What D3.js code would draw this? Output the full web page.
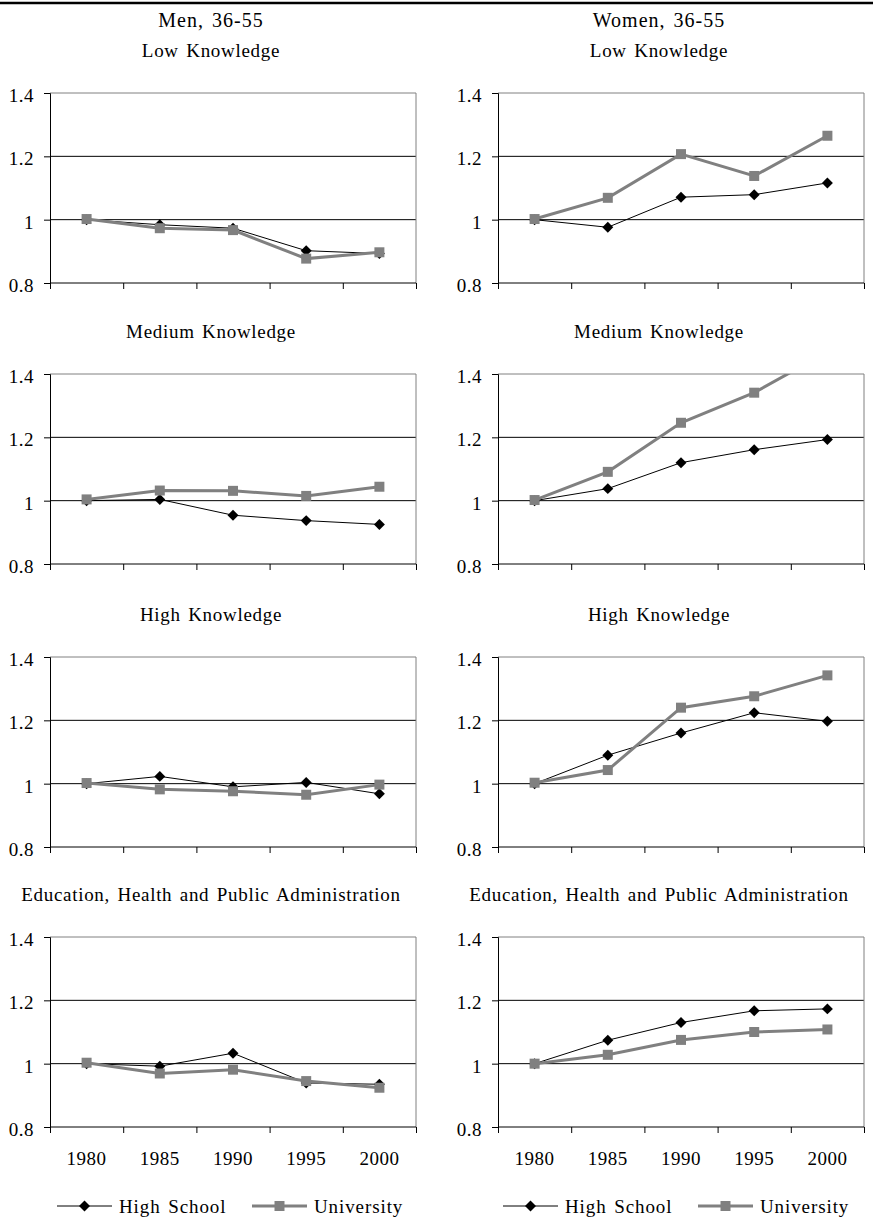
<!DOCTYPE html>
<html>
<head>
<meta charset="utf-8">
<script src="https://cdn.jsdelivr.net/npm/d3@7"></script>
<style>
  body { margin: 0; background: #fff; }
  svg { display: block; font-family: "Liberation Serif", "DejaVu Serif", serif; }
  text { font-family: "Liberation Serif", "DejaVu Serif", serif; fill: #000; }
  .tick text { font-size: 19px; letter-spacing: 0.5px; }
  .label { font-size: 19px; letter-spacing: 0.7px; word-spacing: 2px; }
</style>
</head>
<body>
<svg id="chart" width="873" height="1222"></svg>
<script>
// Data
var years = ['1980', '1985', '1990', '1995', '2000'];
var groups = ['Men, 36-55', 'Women, 36-55'];
var sectors = ['Low Knowledge', 'Medium Knowledge', 'High Knowledge',
               'Education, Health and Public Administration'];
var seriesNames = ['High School', 'University'];
var yTicks = [0.8, 1, 1.2, 1.4];

var menHighSchool = [
    [1.000, 0.984, 0.973, 0.902, 0.893],
    [1.000, 1.004, 0.954, 0.937, 0.925],
    [1.000, 1.023, 0.990, 1.004, 0.968],
    [1.000, 0.992, 1.033, 0.939, 0.935]
];
var menUniversity = [
    [1.002, 0.973, 0.967, 0.877, 0.897],
    [1.004, 1.032, 1.031, 1.015, 1.044],
    [1.002, 0.982, 0.976, 0.965, 0.997],
    [1.003, 0.969, 0.981, 0.945, 0.924]
];
var womenHighSchool = [
    [1.000, 0.976, 1.071, 1.079, 1.116],
    [1.000, 1.038, 1.120, 1.161, 1.193],
    [1.000, 1.090, 1.160, 1.224, 1.197],
    [1.000, 1.074, 1.130, 1.167, 1.173]
];
var womenUniversity = [
    [1.002, 1.069, 1.207, 1.138, 1.265],
    [1.002, 1.091, 1.246, 1.341, 1.470],
    [1.003, 1.043, 1.240, 1.276, 1.342],
    [1.000, 1.028, 1.075, 1.100, 1.108]
];

var seriesData = [[menHighSchool, menUniversity], [womenHighSchool, womenUniversity]];

var svg = d3.select('#chart');
var grey = '#808080';

// Layout
var colLeft = [50, 498];
var plotW = 366;
var plotH = 190;
var rowTop = [93, 374, 657, 937];
var colCenter = [211, 659];

// Top rule
svg.append('line')
   .attr('x1', 0).attr('x2', 873)
   .attr('y1', 3).attr('y2', 3)
   .attr('stroke', '#000').attr('stroke-width', 2.5);

var diamond = d3.symbol().type(d3.symbolSquare).size(60);
var square = d3.symbol().type(d3.symbolSquare).size(100);

groups.forEach(function(group, c) {
    var x0 = colLeft[c];

    // Column title
    svg.append('text').classed('label', true)
       .attr('x', colCenter[c]).attr('y', 27)
       .attr('text-anchor', 'middle')
       .style('font-size', '20px')
       .style('letter-spacing', '1px')
       .text(group);

    sectors.forEach(function(sector, r) {
        var y0 = rowTop[r];
        var xScale = d3.scaleBand().domain(years).range([x0, x0 + plotW]);
        var xEdges = d3.scaleLinear().domain([0, years.length]).range([x0, x0 + plotW]);
        var yScale = d3.scaleLinear().domain([0.8, 1.4]).range([y0 + plotH, y0]);

        // Subtitle
        svg.append('text').classed('label', true)
           .attr('x', colCenter[c]).attr('y', y0 - 36)
           .attr('text-anchor', 'middle')
           .text(sector);

        var g = svg.append('g');

        // Grid lines at 1 and 1.2
        g.selectAll('line.grid').data([1, 1.2]).enter().append('line')
         .attr('x1', x0).attr('x2', x0 + plotW)
         .attr('y1', yScale).attr('y2', yScale)
         .attr('stroke', '#000').attr('stroke-width', 1);

        // Plot area border (top and right, grey)
        g.append('path')
         .attr('d', 'M' + x0 + ',' + yScale(1.4) + 'H' + (x0 + plotW) + 'V' + yScale(0.8))
         .attr('fill', 'none').attr('stroke', grey).attr('stroke-width', 1);

        // Y axis
        var yAxis = g.append('g')
         .attr('transform', 'translate(' + x0 + ',0)')
         .call(d3.axisLeft(yScale).tickValues(yTicks).tickSize(6).tickPadding(10)
                 .tickFormat(d3.format('~g')))
         .attr('font-family', null).attr('font-size', null);
        yAxis.select('.domain').attr('stroke', '#000');
        yAxis.selectAll('.tick text').attr('dy', '0.45em');

        // X axis (ticks on category boundaries)
        var xAxis = g.append('g')
         .attr('transform', 'translate(0,' + yScale(0.8) + ')')
         .call(d3.axisBottom(xEdges).ticks(years.length).tickSize(6).tickFormat(''));
        xAxis.select('.domain').attr('d', 'M' + x0 + ',0H' + (x0 + plotW));

        if (r === sectors.length - 1) {
            var labels = g.append('g')
             .attr('transform', 'translate(0,' + yScale(0.8) + ')')
             .call(d3.axisBottom(xScale).tickSize(0).tickPadding(25))
             .attr('font-family', null).attr('font-size', null);
            labels.select('.domain').remove();
        }

        // Clip to plot area
        var clipId = 'clip-' + c + '-' + r;
        svg.append('clipPath').attr('id', clipId)
           .append('rect')
           .attr('x', x0).attr('y', y0)
           .attr('width', plotW).attr('height', plotH);

        var marks = g.append('g').attr('clip-path', 'url(#' + clipId + ')');
        var line = d3.line()
            .x(function(d, i) { return xScale(years[i]) + xScale.bandwidth() / 2; })
            .y(function(d) { return yScale(d); });

        var hs = seriesData[c][0][r];
        var uni = seriesData[c][1][r];

        marks.append('path').datum(hs)
             .attr('d', line)
             .attr('fill', 'none').attr('stroke', '#000').attr('stroke-width', 1);
        marks.selectAll('path.hs').data(hs).enter().append('path')
             .attr('class', 'hs')
             .attr('d', diamond)
             .attr('transform', function(d, i) {
                 return 'translate(' + (xScale(years[i]) + xScale.bandwidth() / 2) + ',' + yScale(d) + ') rotate(45)';
             })
             .attr('fill', '#000');

        marks.append('path').datum(uni)
             .attr('d', line)
             .attr('fill', 'none').attr('stroke', grey).attr('stroke-width', 3);
        marks.selectAll('path.uni').data(uni).enter().append('path')
             .attr('class', 'uni')
             .attr('d', square)
             .attr('transform', function(d, i) {
                 return 'translate(' + (xScale(years[i]) + xScale.bandwidth() / 2) + ',' + yScale(d) + ')';
             })
             .attr('fill', grey);
    });

    // Legend
    var legendY = 1206;
    var legendX = c === 0 ? [57, 252] : [503, 698];
    seriesNames.forEach(function(name, s) {
        var lx = legendX[s];
        var lg = svg.append('g').attr('transform', 'translate(' + lx + ',' + legendY + ')');
        lg.append('line')
          .attr('x1', 0).attr('x2', 55)
          .attr('stroke', s === 0 ? '#000' : grey)
          .attr('stroke-width', s === 0 ? 1 : 3);
        lg.append('path')
          .attr('d', s === 0 ? diamond : square)
          .attr('transform', 'translate(27.5,0)' + (s === 0 ? ' rotate(45)' : ''))
          .attr('fill', s === 0 ? '#000' : grey);
        lg.append('text').classed('label', true)
          .attr('x', 62).attr('y', 7)
          .style('letter-spacing', '0.9px')
          .text(name);
    });
});
</script>
</body>
</html>
